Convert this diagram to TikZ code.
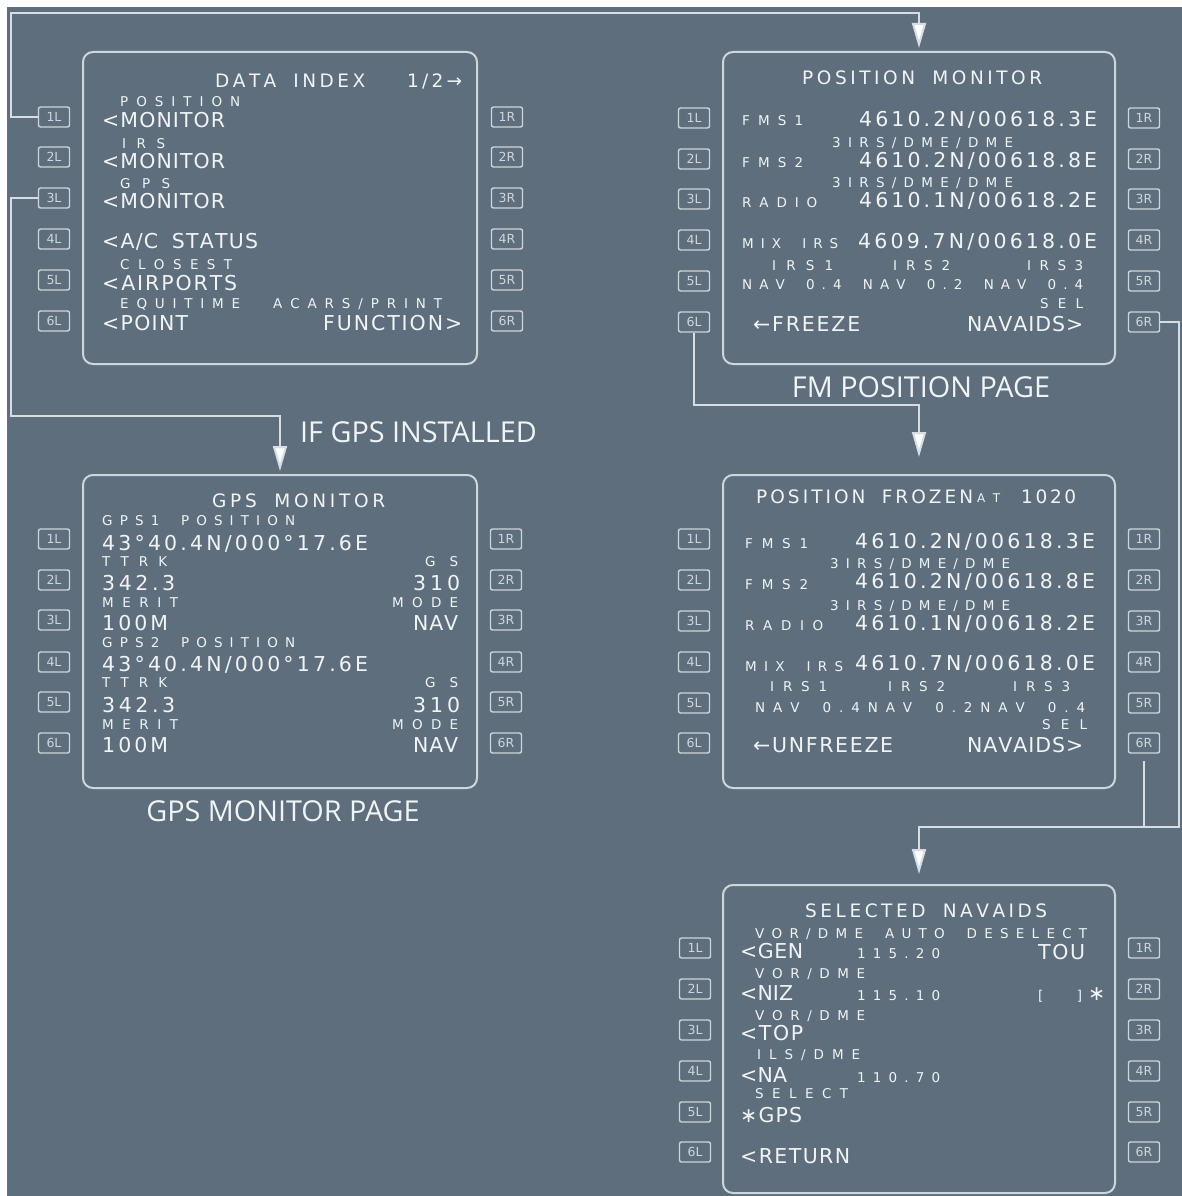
\documentclass[tikz,border=0pt]{standalone}
\usepackage{fontspec}
\usetikzlibrary{arrows.meta}
\newfontfamily\cdufont{DejaVu Sans}
\newfontfamily\capfont{Open Sans}
\newcommand\fbig{\cdufont\fontsize{20.5}{22}\selectfont}
\newcommand\fsmall{\cdufont\fontsize{13.5}{15}\selectfont}
\newcommand\ftitle{\cdufont\fontsize{18.5}{20}\selectfont}
\newcommand\ftiny{\cdufont\fontsize{12}{13}\selectfont}
\definecolor{bgc}{RGB}{94,110,124}
\definecolor{linec}{RGB}{214,222,228}
\definecolor{txtcol}{RGB}{240,244,246}
\definecolor{keyc}{RGB}{205,214,220}
\newcounter{txtc}
\ExplSyntaxOn
\bool_new:N \l_cdu_first_bool
\NewDocumentCommand \cduspread { m m } {
  \makebox[#1pt][s]{
    \bool_set_true:N \l_cdu_first_bool
    \str_map_inline:nn {#2} {
      \bool_if:NF \l_cdu_first_bool { \hfil }
      \bool_set_false:N \l_cdu_first_bool
      \str_if_eq:nnTF {##1} {~} { \hbox_to_wd:nn {0.55em} {} } {##1}
    }
  }
}
\ExplSyntaxOff
\newcommand\cdutext[3]{\stepcounter{txtc}\node[txt] (t\arabic{txtc}) at (#1,#2) {#3};}
\tikzset{
  panel/.style={draw=keyc, line width=2pt, rounded corners=10pt, inner sep=0pt},
  key/.style={draw=keyc, line width=1.4pt, rounded corners=2pt, minimum width=31pt, minimum height=20pt, inner sep=0pt, text=keyc, font=\cdufont\fontsize{12.5}{12.5}\selectfont},
  txt/.style={anchor=base west, inner sep=0pt, text=txtcol},
  captxt/.style={inner sep=0pt, text=txtcol, font=\capfont\fontsize{28.8}{30}\selectfont},
  conn/.style={draw=linec, line width=2pt},
  arr/.style={conn, -{Triangle[length=25pt,width=14pt,fill=white]}}
}
\begin{document}
\begin{tikzpicture}[x=1pt,y=-1pt]
\useasboundingbox (0,0) rectangle (1182,1196);
\fill[white] (0,0) rectangle (1182,1196);
\fill[bgc] (7,7) rectangle (1182,1196);

% panels
\node[panel, minimum width=394pt, minimum height=312pt] (di) at (280,208) {};
\node[panel, minimum width=392pt, minimum height=312pt] (pm) at (919,208) {};
\node[panel, minimum width=394pt, minimum height=313pt] (gps) at (280,631.5) {};
\node[panel, minimum width=392pt, minimum height=313pt] (pf) at (919,631.5) {};
\node[panel, minimum width=392pt, minimum height=308pt] (sn) at (919,1039) {};

% keys
\foreach \k/\y in {1/117,2/157,3/198,4/239,5/280,6/321}{
  \node[key] (di\k L) at (54,\y) {\k L};
  \node[key] (di\k R) at (507,\y) {\k R};
}
\foreach \k/\y in {1/118,2/159,3/199,4/240,5/281,6/322}{
  \node[key] (pm\k L) at (694,\y) {\k L};
  \node[key] (pm\k R) at (1144,\y) {\k R};
}
\foreach \k/\y in {1/539,2/580,3/620,4/662,5/702,6/743}{
  \node[key] (gps\k L) at (54,\y) {\k L};
  \node[key] (gps\k R) at (506,\y) {\k R};
}
\foreach \k/\y in {1/539,2/580,3/621,4/662,5/703,6/743}{
  \node[key] (pf\k L) at (694,\y) {\k L};
  \node[key] (pf\k R) at (1144,\y) {\k R};
}
\foreach \k/\y in {1/948,2/989,3/1030,4/1071,5/1112,6/1152}{
  \node[key] (sn\k L) at (695,\y) {\k L};
  \node[key] (sn\k R) at (1144,\y) {\k R};
}

% connectors
\coordinate (c1) at (11,13);
\coordinate (c2) at (11,416);
\coordinate (c3) at (694,405);
\coordinate (c4) at (1179,827);
\draw[arr, shorten >=3pt] (di1L.west) -| (c1) -| (pm.north);
\draw[arr, shorten >=3pt] (di3L.west) -| (c2) -| (gps.north);
\draw[arr, shorten >=17pt] (pm6L.south) -- (c3) -| (pf.north);
\draw[arr, shorten >=10pt] (pm6R.east) -| (c4) -| (sn.north);
\draw[conn, shorten <=7pt] (pf6R.south) -- (pf6R.south |- c4);

% DATA INDEX
\cdutext{215}{88}{\ftitle\cduspread{150}{DATA INDEX}}
\cdutext{407}{88}{\ftitle\cduspread{55}{1/2→}}
\cdutext{120}{107}{\fsmall\cduspread{120}{POSITION}}
\cdutext{102}{128}{\fbig\cduspread{123}{<MONITOR}}
\cdutext{122}{148}{\fsmall\cduspread{43}{IRS}}
\cdutext{102}{168}{\fbig\cduspread{123}{<MONITOR}}
\cdutext{120}{188}{\fsmall\cduspread{50}{GPS}}
\cdutext{102}{208}{\fbig\cduspread{123}{<MONITOR}}
\cdutext{102}{248}{\fbig\cduspread{156}{<A/C STATUS}}
\cdutext{120}{269}{\fsmall\cduspread{112}{CLOSEST}}
\cdutext{102}{290}{\fbig\cduspread{135}{<AIRPORTS}}
\cdutext{120}{308}{\fsmall\cduspread{120}{EQUITIME}}
\cdutext{273}{308}{\fsmall\cduspread{169}{ACARS/PRINT}}
\cdutext{102}{330}{\fbig\cduspread{86}{<POINT}}
\cdutext{323}{330}{\fbig\cduspread{139}{FUNCTION>}}

% POSITION MONITOR
\cdutext{802}{85}{\ftitle\cduspread{240}{POSITION MONITOR}}
\cdutext{742}{126}{\fsmall\cduspread{61}{FMS1}}
\cdutext{859}{127}{\fbig\cduspread{238}{4610.2N/00618.3E}}
\cdutext{832}{147}{\fsmall\cduspread{181}{3IRS/DME/DME}}
\cdutext{742}{167}{\fsmall\cduspread{61}{FMS2}}
\cdutext{859}{167}{\fbig\cduspread{238}{4610.2N/00618.8E}}
\cdutext{832}{187}{\fsmall\cduspread{181}{3IRS/DME/DME}}
\cdutext{742}{207}{\fsmall\cduspread{75}{RADIO}}
\cdutext{859}{207}{\fbig\cduspread{238}{4610.1N/00618.2E}}
\cdutext{742}{248}{\fsmall\cduspread{96}{MIX IRS}}
\cdutext{858}{248}{\fbig\cduspread{239}{4609.7N/00618.0E}}
\cdutext{772}{270}{\fsmall\cduspread{61}{IRS1}}
\cdutext{893}{270}{\fsmall\cduspread{57}{IRS2}}
\cdutext{1027}{270}{\fsmall\cduspread{56}{IRS3}}
\cdutext{742}{289}{\fsmall\cduspread{341}{NAV 0.4 NAV 0.2 NAV 0.4}}
\cdutext{1040}{308}{\fsmall\cduspread{43}{SEL}}
\cdutext{753}{331}{\fbig\cduspread{107}{←FREEZE}}
\cdutext{967}{331}{\fbig\cduspread{116}{NAVAIDS>}}

% POSITION FROZEN
\cdutext{756}{503}{\ftitle\cduspread{217}{POSITION FROZEN}}
\cdutext{977}{502}{\ftiny\cduspread{23}{AT}}
\cdutext{1021}{503}{\ftitle\cduspread{55}{1020}}
\cdutext{745}{548}{\fsmall\cduspread{63}{FMS1}}
\cdutext{855}{548}{\fbig\cduspread{240}{4610.2N/00618.3E}}
\cdutext{830}{568}{\fsmall\cduspread{180}{3IRS/DME/DME}}
\cdutext{745}{589}{\fsmall\cduspread{63}{FMS2}}
\cdutext{855}{588}{\fbig\cduspread{240}{4610.2N/00618.8E}}
\cdutext{830}{610}{\fsmall\cduspread{180}{3IRS/DME/DME}}
\cdutext{745}{630}{\fsmall\cduspread{78}{RADIO}}
\cdutext{855}{630}{\fbig\cduspread{240}{4610.1N/00618.2E}}
\cdutext{745}{671}{\fsmall\cduspread{98}{MIX IRS}}
\cdutext{855}{670}{\fbig\cduspread{240}{4610.7N/00618.0E}}
\cdutext{770}{691}{\fsmall\cduspread{57}{IRS1}}
\cdutext{888}{691}{\fsmall\cduspread{57}{IRS2}}
\cdutext{1013}{691}{\fsmall\cduspread{57}{IRS3}}
\cdutext{755}{712}{\fsmall\cduspread{330}{NAV 0.4NAV 0.2NAV 0.4}}
\cdutext{1042}{729}{\fsmall\cduspread{45}{SEL}}
\cdutext{753}{752}{\fbig\cduspread{140}{←UNFREEZE}}
\cdutext{967}{752}{\fbig\cduspread{116}{NAVAIDS>}}

% GPS MONITOR
\cdutext{212}{507}{\ftitle\cduspread{173}{GPS MONITOR}}
\cdutext{102}{525}{\fsmall\cduspread{193}{GPS1 POSITION}}
\cdutext{102}{550}{\fbig\cduspread{266}{43°40.4N/000°17.6E}}
\cdutext{102}{566}{\fsmall\cduspread{65}{TTRK}}
\cdutext{425}{566}{\fsmall\cduspread{33}{GS}}
\cdutext{102}{590}{\fbig\cduspread{73}{342.3}}
\cdutext{413}{590}{\fbig\cduspread{47}{310}}
\cdutext{102}{607}{\fsmall\cduspread{76}{MERIT}}
\cdutext{392}{607}{\fsmall\cduspread{66}{MODE}}
\cdutext{102}{630}{\fbig\cduspread{66}{100M}}
\cdutext{413}{630}{\fbig\cduspread{45}{NAV}}
\cdutext{102}{647}{\fsmall\cduspread{193}{GPS2 POSITION}}
\cdutext{102}{671}{\fbig\cduspread{266}{43°40.4N/000°17.6E}}
\cdutext{102}{687}{\fsmall\cduspread{65}{TTRK}}
\cdutext{425}{687}{\fsmall\cduspread{33}{GS}}
\cdutext{102}{712}{\fbig\cduspread{73}{342.3}}
\cdutext{413}{712}{\fbig\cduspread{47}{310}}
\cdutext{102}{729}{\fsmall\cduspread{76}{MERIT}}
\cdutext{392}{729}{\fsmall\cduspread{66}{MODE}}
\cdutext{102}{752}{\fbig\cduspread{66}{100M}}
\cdutext{413}{752}{\fbig\cduspread{45}{NAV}}

% SELECTED NAVAIDS
\cdutext{805}{917}{\ftitle\cduspread{242}{SELECTED NAVAIDS}}
\cdutext{755}{938}{\fsmall\cduspread{332}{VOR/DME AUTO DESELECT}}
\cdutext{740}{958}{\fbig\cduspread{63}{<GEN}}
\cdutext{857}{958}{\fsmall\cduspread{83}{115.20}}
\cdutext{1038}{959}{\fbig\cduspread{47}{TOU}}
\cdutext{755}{978}{\fsmall\cduspread{110}{VOR/DME}}
\cdutext{740}{1000}{\fbig\cduspread{53}{<NIZ}}
\cdutext{857}{1000}{\fsmall\cduspread{83}{115.10}}
\cdutext{1038}{1000}{{\fsmall\cduspread{44}{[ ]}}\hspace{6pt}{\fbig\cduspread{14}{∗}}}
\cdutext{755}{1020}{\fsmall\cduspread{110}{VOR/DME}}
\cdutext{740}{1040}{\fbig\cduspread{63}{<TOP}}
\cdutext{757}{1059}{\fsmall\cduspread{103}{ILS/DME}}
\cdutext{740}{1082}{\fbig\cduspread{47}{<NA}}
\cdutext{857}{1082}{\fsmall\cduspread{83}{110.70}}
\cdutext{755}{1098}{\fsmall\cduspread{93}{SELECT}}
\cdutext{740}{1122}{\fbig\cduspread{62}{∗GPS}}
\cdutext{740}{1163}{\fbig\cduspread{110}{<RETURN}}

% captions
\node[captxt, anchor=base] (capfm) at (921,397) {FM POSITION PAGE};
\node[captxt, anchor=base west] (capif) at (300,442) {IF GPS INSTALLED};
\node[captxt, anchor=base] (capgps) at (283,821) {GPS MONITOR PAGE};
\end{tikzpicture}
\end{document}
